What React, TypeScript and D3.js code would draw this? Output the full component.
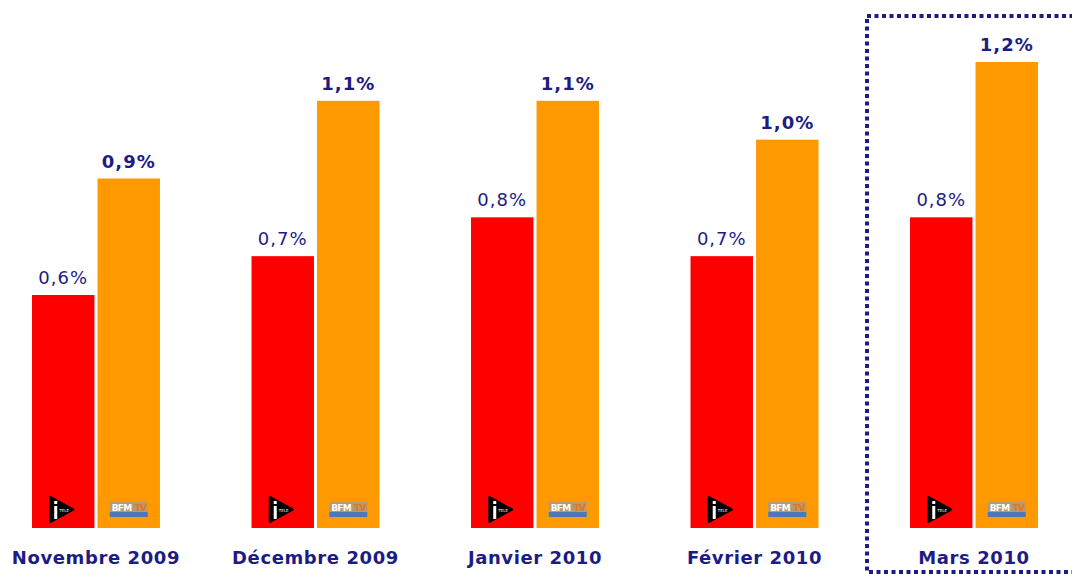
import React from 'react'
import * as d3 from 'd3'

const months = ['Novembre 2009', 'Décembre 2009', 'Janvier 2010', 'Février 2010', 'Mars 2010']
const itele = [0.6, 0.7, 0.8, 0.7, 0.8]
const bfm = [0.9, 1.1, 1.1, 1.0, 1.2]
const iteleLabels = ['0,6%', '0,7%', '0,8%', '0,7%', '0,8%']
const bfmLabels = ['0,9%', '1,1%', '1,1%', '1,0%', '1,2%']
const channels = ['itele', 'bfm']

const navy = '#1c1c84'
const font = 'Verdana, "DejaVu Sans", sans-serif'

function ITeleLogo({ cx, y }: { cx: number; y: number }) {
  return (
    <g>
      <path d={`M${cx - 13},${y} L${cx - 13},${y + 25} L${cx + 10},${y + 12.5} Z`} fill="#000" stroke="#000" strokeWidth={2} strokeLinejoin="round" />
      <rect x={cx - 9} y={y + 9} width={3} height={13} fill="#fff" />
      <rect x={cx - 9} y={y + 4} width={3} height={3} fill="#fff" />
      <text x={cx - 4} y={y + 15} fontSize={4} fill="#fff" fontFamily={font}>TELE</text>
    </g>
  )
}

function BfmLogo({ cx, y }: { cx: number; y: number }) {
  return (
    <g>
      <rect x={cx - 19} y={y} width={38} height={10} fill="#b39a72" />
      <text x={cx - 17} y={y + 8.5} fontSize={9} fontWeight="bold" fill="#fff" fontFamily={font} letterSpacing={-0.8}>BFM</text>
      <text x={cx + 6} y={y + 8.5} fontSize={9} fontWeight="bold" fill="#e8741c" fontFamily={font} letterSpacing={-0.8}>TV</text>
      <rect x={cx - 19} y={y + 10} width={38} height={5} fill="#4a78b8" />
    </g>
  )
}

export default function App() {
  const width = 1072
  const height = 576
  const x = d3.scaleBand<string>().domain(months).range([32, 1038]).paddingInner(0.417).paddingOuter(0)
  const xs = d3.scaleBand<string>().domain(channels).range([0, x.bandwidth()]).paddingInner(0.047)
  const y = d3.scaleLinear().domain([0, 1.2]).range([528, 62])
  const colors: Record<string, string> = { itele: '#ff0000', bfm: '#ff9900' }

  return (
    <svg width={width} height={height} style={{ position: 'absolute', left: 0, top: 0, background: '#fff' }}>
      <rect x={867} y={16} width={220} height={556} fill="none" stroke={navy} strokeWidth={4} strokeDasharray="4 3.5" />
      {months.map((m, i) => {
        const gx = x(m) as number
        const vals = [itele[i], bfm[i]]
        const labels = [iteleLabels[i], bfmLabels[i]]
        return (
          <g key={m}>
            {channels.map((c, j) => {
              const bx = gx + (xs(c) as number)
              const bw = xs.bandwidth()
              const top = y(vals[j])
              return (
                <g key={c}>
                  <rect x={bx} y={top} width={bw} height={y(0) - top} fill={colors[c]} />
                  <text x={bx + bw / 2} y={top - 11} textAnchor="middle" fontSize={18} fontFamily={font} letterSpacing={1}
                    fontWeight={j === 1 ? 'bold' : 'normal'} fill={navy}>{labels[j]}</text>
                  {j === 0 ? <ITeleLogo cx={bx + bw / 2} y={497} /> : <BfmLogo cx={bx + bw / 2} y={502} />}
                </g>
              )
            })}
            <text x={gx + x.bandwidth() / 2} y={564} textAnchor="middle" fontSize={18} fontWeight="bold" fontFamily={font}
              letterSpacing={0.6} fill={navy}>{m}</text>
          </g>
        )
      })}
    </svg>
  )
}
